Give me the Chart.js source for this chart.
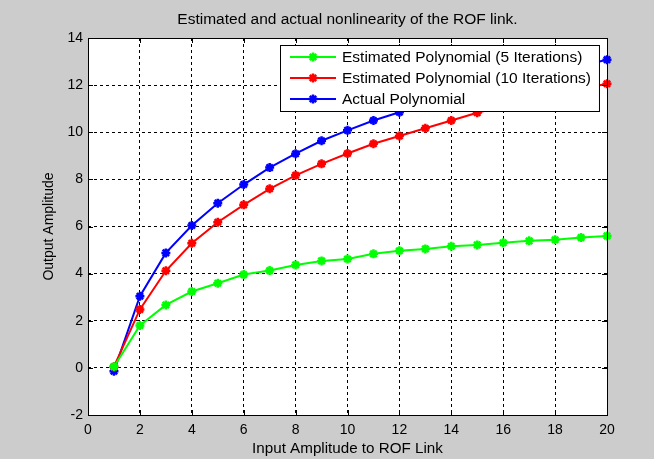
<!DOCTYPE html>
<html>
<head>
<meta charset="utf-8">
<script src="https://cdn.jsdelivr.net/npm/chart.js@4.4.1/dist/chart.umd.min.js"></script>
<style>
  html, body { margin: 0; padding: 0; background: #cccccc; }
  #wrap { width: 654px; height: 459px; position: relative; }
  canvas { display: block; }
</style>
</head>
<body>
<div id="wrap"><canvas id="c" width="654" height="459"></canvas></div>
<script>
// ---- data ----
const titleText = "Estimated and actual nonlinearity of the ROF link.";
const xLabel = "Input Amplitude to ROF Link";
const yLabel = "Output Amplitude";
const inputAmplitude = [1,2,3,4,5,6,7,8,9,10,11,12,13,14,15,16,17,18,19,20];
const est5 = [0.05,1.80,2.67,3.24,3.59,3.96,4.13,4.37,4.54,4.62,4.84,4.97,5.05,5.16,5.22,5.31,5.39,5.44,5.53,5.60];
const est10 = [0.05,2.48,4.12,5.29,6.18,6.92,7.60,8.17,8.66,9.10,9.51,9.84,10.17,10.50,10.83,11.10,11.36,11.60,11.83,12.06];
const actual = [-0.14,3.04,4.88,6.04,6.99,7.78,8.50,9.09,9.64,10.08,10.50,10.85,11.17,11.48,11.77,12.05,12.31,12.57,12.82,13.08];
const seriesNames = ["Estimated Polynomial (5 Iterations)", "Estimated Polynomial (10 Iterations)", "Actual Polynomial"];
const seriesColors = ["#00ff00", "#ff0000", "#0000ff"];
const xTicks = [0,2,4,6,8,10,12,14,16,18,20];
const yTicks = [-2,0,2,4,6,8,10,12,14];

const FONT = "'Liberation Sans', Arial, sans-serif";

function toPoints(ys) { return inputAmplitude.map((x, i) => ({ x: x, y: ys[i] })); }
const seriesValues = [est5, est10, actual];
const datasets = seriesValues.map((vals, i) => ({
  label: seriesNames[i],
  data: toPoints(vals),
  borderColor: seriesColors[i],
  backgroundColor: seriesColors[i],
  borderWidth: 2,
  pointStyle: 'star',
  pointRadius: 4.5,
  pointBorderWidth: 2.5,
  pointHoverRadius: 4.5,
  tension: 0,
  clip: false
}));

const bgPlugin = {
  id: 'plotBg',
  beforeDraw(chart) {
    const { ctx, chartArea: a } = chart;
    ctx.save();
    ctx.fillStyle = '#ffffff';
    ctx.fillRect(a.left, a.top, a.right - a.left, a.bottom - a.top);
    ctx.fillStyle = '#000';
    ctx.font = "15.5px " + FONT;
    ctx.textAlign = 'center';
    ctx.textBaseline = 'middle';
    ctx.fillText(titleText, (a.left + a.right) / 2, 20);
    ctx.restore();
  }
};

const boxPlugin = {
  id: 'matlabBox',
  afterDatasetsDraw(chart) {
    const { ctx, chartArea: a, scales } = chart;
    ctx.save();
    ctx.strokeStyle = '#000';
    ctx.lineWidth = 1;
    ctx.setLineDash([]);
    ctx.strokeRect(Math.round(a.left) + 0.5, Math.round(a.top) + 0.5,
                   Math.round(a.right - a.left), Math.round(a.bottom - a.top));
    const tl = 5;
    ctx.beginPath();
    xTicks.forEach(v => {
      const px = Math.round(scales.x.getPixelForValue(v)) + 0.5;
      ctx.moveTo(px, a.bottom); ctx.lineTo(px, a.bottom - tl);
      ctx.moveTo(px, a.top); ctx.lineTo(px, a.top + tl);
    });
    yTicks.forEach(v => {
      const py = Math.round(scales.y.getPixelForValue(v)) + 0.5;
      ctx.moveTo(a.left, py); ctx.lineTo(a.left + tl, py);
      ctx.moveTo(a.right, py); ctx.lineTo(a.right - tl, py);
    });
    ctx.stroke();
    ctx.restore();
  }
};

function drawStar(ctx, x, y, r) {
  ctx.beginPath();
  ctx.moveTo(x - r, y); ctx.lineTo(x + r, y);
  ctx.moveTo(x, y - r); ctx.lineTo(x, y + r);
  const d = r * Math.SQRT1_2;
  ctx.moveTo(x - d, y - d); ctx.lineTo(x + d, y + d);
  ctx.moveTo(x - d, y + d); ctx.lineTo(x + d, y - d);
  ctx.stroke();
}

const legendPlugin = {
  id: 'insideLegend',
  afterDraw(chart) {
    const { ctx, chartArea: a } = chart;
    const font = "15.5px " + FONT;
    ctx.save();
    ctx.font = font;
    let maxW = 0;
    chart.data.datasets.forEach(ds => { maxW = Math.max(maxW, ctx.measureText(ds.label).width); });
    const w = 62 + maxW + 8;
    const rowH = 21;
    const h = 12 + rowH * (chart.data.datasets.length - 1) + 12;
    const right = Math.round(a.right - 8);
    const left = Math.round(right - w);
    const top = Math.round(a.top + 7);
    ctx.fillStyle = '#ffffff';
    ctx.fillRect(left, top, w, h);
    ctx.strokeStyle = '#000';
    ctx.lineWidth = 1;
    ctx.strokeRect(left + 0.5, top + 0.5, w, h);
    chart.data.datasets.forEach((ds, i) => {
      const y = top + 12 + i * rowH;
      ctx.strokeStyle = ds.borderColor;
      ctx.lineWidth = 2;
      ctx.beginPath();
      ctx.moveTo(left + 10, y); ctx.lineTo(left + 56, y);
      ctx.stroke();
      ctx.lineWidth = 2.5;
      drawStar(ctx, left + 33, y, 4.5);
      ctx.fillStyle = '#000';
      ctx.textBaseline = 'middle';
      ctx.textAlign = 'left';
      ctx.fillText(ds.label, left + 62, y + 1);
    });
    ctx.restore();
  }
};

new Chart(document.getElementById('c'), {
  type: 'line',
  data: { datasets: datasets },
  plugins: [bgPlugin, boxPlugin, legendPlugin],
  options: {
    responsive: false,
    animation: false,
    events: [],
    layout: { padding: { left: 0, right: 47, top: 38, bottom: 0 } },
    plugins: {
      legend: { display: false },
      tooltip: { enabled: false },
      title: { display: false }
    },
    scales: {
      x: {
        type: 'linear',
        min: 0, max: 20,
        afterFit(scale) { scale.height = 44; },
        afterBuildTicks(scale) { scale.ticks = xTicks.map(v => ({ value: v })); },
        ticks: { color: '#000', padding: 7, font: { family: FONT, size: 14 }, maxRotation: 0 },
        grid: { color: '#000', lineWidth: 1, drawTicks: false },
        border: { display: false, dash: [3, 3] },
        title: {
          display: true, text: xLabel, color: '#000',
          font: { family: FONT, size: 15.2, lineHeight: 1.2 },
          padding: { top: 0, bottom: 1 }
        }
      },
      y: {
        type: 'linear',
        min: -2, max: 14,
        afterFit(scale) { scale.width = 88; },
        afterBuildTicks(scale) { scale.ticks = yTicks.map(v => ({ value: v })); },
        ticks: { color: '#000', padding: 5, font: { family: FONT, size: 14 } },
        grid: { color: '#000', lineWidth: 1, drawTicks: false },
        border: { display: false, dash: [3, 3] },
        title: {
          display: true, text: yLabel, color: '#000',
          font: { family: FONT, size: 14, lineHeight: 1.2 },
          padding: { top: 41, bottom: 0 }
        }
      }
    }
  },
});
</script>
</body>
</html>
